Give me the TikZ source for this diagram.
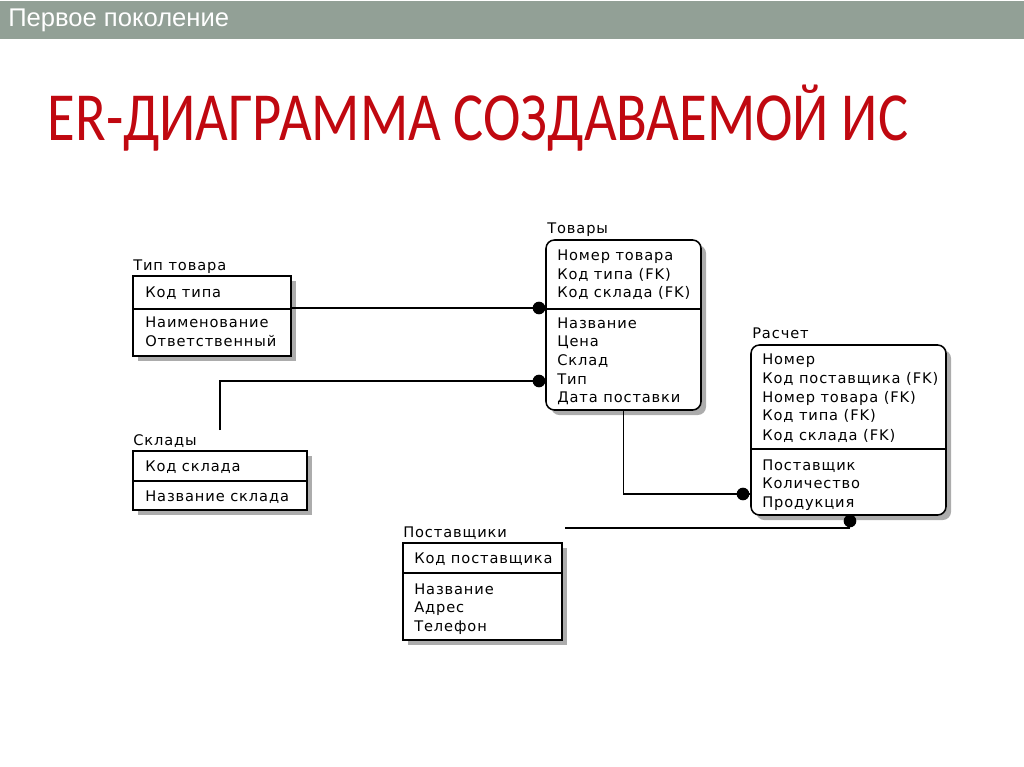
\documentclass[tikz,border=0pt]{standalone}
\usepackage{fontspec}
\setmainfont{Liberation Sans}
\newfontfamily\titlefont{Carlito}
\newfontfamily\erfont[LetterSpace=6]{DejaVu Sans}
\usetikzlibrary{fit,shadows}
\definecolor{barGray}{RGB}{146,160,150}
\definecolor{titleRed}{RGB}{192,8,16}
\tikzset{
    ent/.style={draw, line width=1.1pt, fill=white, inner sep=0pt,
        drop shadow={shadow xshift=3.6pt, shadow yshift=-3.6pt, fill=gray!65, opacity=1}},
    rent/.style={ent, rounded corners=6pt},
    lbl/.style={anchor=base west, inner sep=0pt, font=\erfont\fontsize{10.4}{12}\selectfont},
    row/.style={lbl},
    link/.style={line width=1.1pt},
    dot/.style={circle, fill=black, inner sep=0pt, minimum size=9pt}
}
\begin{document}
\begin{tikzpicture}[x=0.025cm, y=-0.025cm]
    \useasboundingbox (0,0) rectangle (1024,767);
    % En-tete
    \fill[barGray] (0,1) rectangle (1024,39);
    \node[anchor=west, white, inner sep=0pt, font=\fontsize{18.2}{20}\selectfont] (bar) at (8,20) {Первое поколение};
    \node[titleRed, inner sep=0pt, font=\titlefont\fontsize{49}{58}\selectfont] (title) at (478,118) {\scalebox{0.82}[1]{ER-ДИАГРАММА СОЗДАВАЕМОЙ ИС}};
    % Тип товара
    \node[lbl] (tip-name) at (133,270) {Тип товара};
    \node[ent, fit={(133,276) (291,356)}] (tip) {};
    \draw[link] (tip.west |- 0,309) -- (tip.east |- 0,309);
    \node[row] (tip-1) at (145,297) {Код типа};
    \node[row] (tip-2) at (145,327) {Наименование};
    \node[row] (tip-3) at (145,346) {Ответственный};
    % Склады
    \node[lbl] (skl-name) at (133,445) {Склады};
    \node[ent, fit={(133,451) (307,510)}] (skl) {};
    \draw[link] (skl.west |- 0,481) -- (skl.east |- 0,481);
    \node[row] (skl-1) at (145,471) {Код склада};
    \node[row] (skl-2) at (145,501) {Название склада};
    % Товары
    \node[lbl] (tov-name) at (547,234) {Товары};
    \node[rent, fit={(546,240) (701,410)}] (tov) {};
    \draw[link] (tov.west |- 0,309) -- (tov.east |- 0,309);
    \node[row] (tov-1) at (557,261) {Номер товара};
    \node[row] (tov-2) at (557,279) {Код типа (FK)};
    \node[row] (tov-3) at (557,298) {Код склада (FK)};
    \node[row] (tov-4) at (557,328) {Название};
    \node[row] (tov-5) at (557,346) {Цена};
    \node[row] (tov-6) at (557,365) {Склад};
    \node[row] (tov-7) at (557,384) {Тип};
    \node[row] (tov-8) at (557,402) {Дата поставки};
    % Расчет
    \node[lbl] (ras-name) at (752,338) {Расчет};
    \node[rent, fit={(751,345) (946,515)}] (ras) {};
    \draw[link] (ras.west |- 0,449) -- (ras.east |- 0,449);
    \node[row] (ras-1) at (762,364) {Номер};
    \node[row] (ras-2) at (762,383) {Код поставщика (FK)};
    \node[row] (ras-3) at (762,402) {Номер товара (FK)};
    \node[row] (ras-4) at (762,420) {Код типа (FK)};
    \node[row] (ras-5) at (762,440) {Код склада (FK)};
    \node[row] (ras-6) at (762,470) {Поставщик};
    \node[row] (ras-7) at (762,488) {Количество};
    \node[row] (ras-8) at (762,507) {Продукция};
    % Поставщики
    \node[lbl] (pos-name) at (403,537) {Поставщики};
    \node[ent, fit={(403,543) (562,640)}] (pos) {};
    \draw[link] (pos.west |- 0,573) -- (pos.east |- 0,573);
    \node[row] (pos-1) at (414,563) {Код поставщика};
    \node[row] (pos-2) at (414,594) {Название};
    \node[row] (pos-3) at (414,612) {Адрес};
    \node[row] (pos-4) at (414,631) {Телефон};
    % Связи
    \node[dot] (d1) at (539,308) {};
    \draw[link] (tip.east |- d1) -- (tov.west |- d1);
    \coordinate (c2) at (220,430);
    \node[dot] (d2) at (539,381) {};
    \draw[link] (c2) |- (tov.west |- d2);
    \node[dot] (d3) at (743,494) {};
    \draw[link] (tov.south) |- (ras.west |- d3);
    \coordinate (c4) at (565,528);
    \node[dot] (d4) at (850,521) {};
    \draw[link] (c4) -- (c4 -| d4);
\end{tikzpicture}
\end{document}
